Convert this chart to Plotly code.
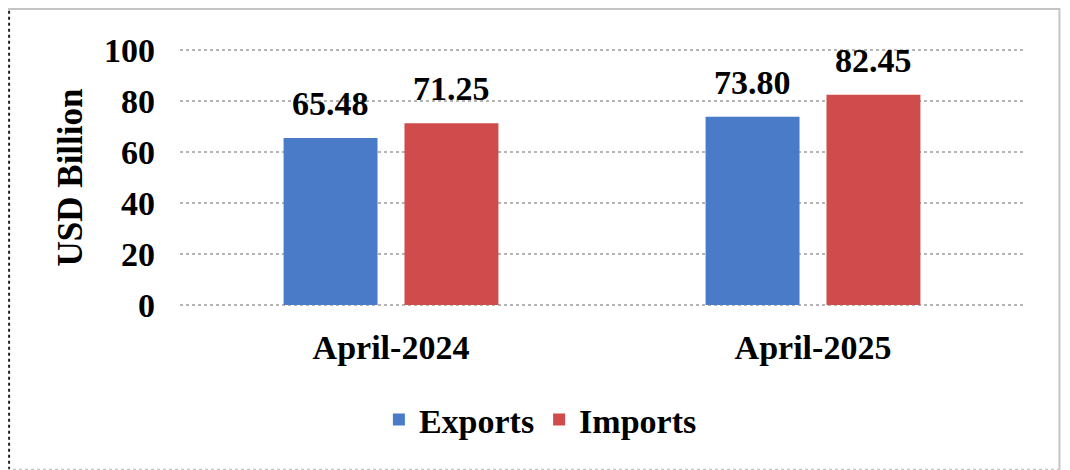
import plotly.graph_objects as go

categories = ["April-2024", "April-2025"]
exports = [65.48, 73.80]
imports = [71.25, 82.45]
series_names = ["Exports", "Imports"]
y_ticks = [0, 20, 40, 60, 80, 100]

FONT = "Liberation Serif, Times New Roman, serif"
BLUE = "#4a7bc9"
RED = "#d04c4c"

fig = go.Figure()
fig.add_trace(go.Bar(x=categories, y=exports, name=f"<b>{series_names[0]}</b>",
                     marker=dict(color=BLUE, line=dict(width=0))))
fig.add_trace(go.Bar(x=categories, y=imports, name=f"<b>{series_names[1]}</b>",
                     marker=dict(color=RED, line=dict(width=0))))

# data labels
for vals, shift in ((exports, -60.5), (imports, 60.5)):
    for c, v in zip(categories, vals):
        fig.add_annotation(x=c, y=v, xref="x", yref="y", text=f"<b>{v:.2f}</b>",
                           showarrow=False, xshift=shift, yshift=14, yanchor="bottom",
                           font=dict(family=FONT, size=34, color="#000000"))

# outer dotted border
grey = "#c4c4c4"
fig.add_shape(type="line", xref="paper", yref="paper", x0=-0.2025, x1=-0.2025, y0=-0.637, y1=1.16,
              line=dict(color="#222222", width=2, dash="dot"))
fig.add_shape(type="line", xref="paper", yref="paper", x0=-0.212, x1=1.042, y0=1.158, y1=1.158,
              line=dict(color=grey, width=3))
fig.add_shape(type="line", xref="paper", yref="paper", x0=1.042, x1=1.042, y0=-0.637, y1=1.16,
              line=dict(color=grey, width=2))
fig.add_shape(type="line", xref="paper", yref="paper", x0=-0.212, x1=1.042, y0=-0.637, y1=-0.637,
              line=dict(color=grey, width=2, dash="dot"))

fig.update_layout(
    width=1070, height=470,
    margin=dict(l=172, r=54, t=41, b=172, autoexpand=False),
    paper_bgcolor="white", plot_bgcolor="white",
    barmode="group", bargap=0.427, bargroupgap=0.223,
    font=dict(family=FONT, size=34, color="#000000"),
    showlegend=True,
    legend=dict(orientation="h", x=0.427, xanchor="center", y=-0.443, yanchor="middle",
                font=dict(family=FONT, size=34, color="#000000"),
                itemwidth=30, tracegroupgap=0, bgcolor="rgba(0,0,0,0)"),
    xaxis=dict(showgrid=False, showline=False, zeroline=False, ticks="",
               ticklabelstandoff=18, automargin=False,
               tickfont=dict(family=FONT, size=34, color="#000000"),
               tickvals=categories, ticktext=[f"<b>{c}</b>" for c in categories]),
    yaxis=dict(range=[-0.4, 100.4], tickvals=y_ticks, ticktext=[f"<b>{t}</b>" for t in y_ticks],
               showgrid=True, gridcolor="#b5b5b5", griddash="dot", gridwidth=2,
               zeroline=False, showline=False, ticks="", ticklabelstandoff=24,
               automargin=False,
               tickfont=dict(family=FONT, size=34, color="#000000"),
               title=dict(text="<b>USD Billion</b>", font=dict(family=FONT, size=35, color="#000000"),
                          standoff=10)),
)

fig.write_html("out.html")
